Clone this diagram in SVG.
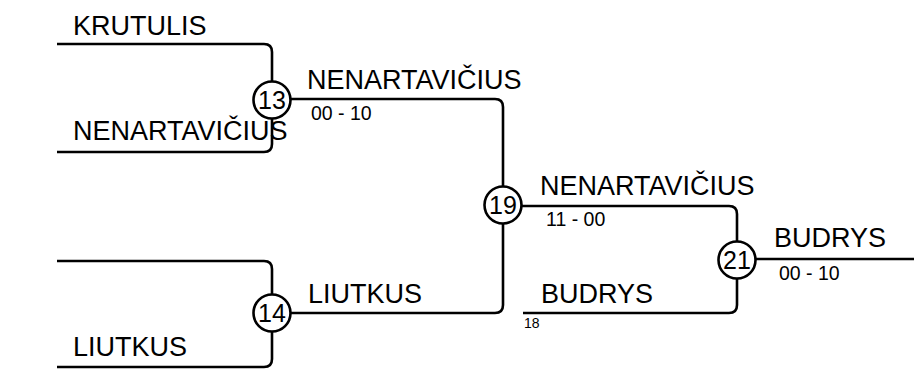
<svg xmlns="http://www.w3.org/2000/svg" width="914" height="372" viewBox="0 0 914 372">
<style>
.ln{fill:none;stroke:#000;stroke-width:2.6}
.c{fill:#fff;stroke:#000;stroke-width:2.6}
.t{font-family:"Liberation Sans",Arial,sans-serif;font-size:27px;fill:#000}
.s{font-family:"Liberation Sans",Arial,sans-serif;font-size:19.5px;fill:#000}
.n{font-family:"Liberation Sans",Arial,sans-serif;font-size:25px;fill:#000;text-anchor:middle}
.x{font-family:"Liberation Sans",Arial,sans-serif;font-size:14px;fill:#000}
</style>
<rect width="914" height="372" fill="#fff"/>
<g id="connectors">
<path class="ln" d="M57,44 H264 Q272,44 272,52 V81"/>
<path class="ln" d="M57,152 H264 Q272,152 272,144 V119"/>
<path class="ln" d="M290,99 H495 Q503,99 503,107 V187"/>
<path class="ln" d="M57,261 H264 Q272,261 272,269 V295"/>
<path class="ln" d="M57,367 H264 Q272,367 272,359 V331"/>
<path class="ln" d="M290,313 H495 Q503,313 503,305 V224"/>
<path class="ln" d="M521,206 H729 Q737,206 737,214 V241"/>
<path class="ln" d="M523,313 H729 Q737,313 737,305 V277"/>
<path class="ln" d="M755,259 H914"/>
</g>
<g id="labels">
<text class="t" x="73" y="35">KRUTULIS</text>
<text class="t" x="73" y="140">NENARTAVIČIUS</text>
<text class="t" x="307" y="89">NENARTAVIČIUS</text>
<text class="s" x="311" y="120">00 - 10</text>
<text class="t" x="308" y="303">LIUTKUS</text>
<text class="t" x="73" y="356">LIUTKUS</text>
<text class="t" x="540" y="195">NENARTAVIČIUS</text>
<text class="s" x="546" y="226">11 - 00</text>
<text class="t" x="541" y="303">BUDRYS</text>
<text class="x" x="524" y="328">18</text>
<text class="t" x="774" y="247">BUDRYS</text>
<text class="s" x="779" y="280">00 - 10</text>
</g>
<g id="match13"><circle class="c" cx="272" cy="100" r="18.5"/><text class="n" x="272" y="109">13</text></g>
<g id="match14"><circle class="c" cx="272" cy="313" r="18.5"/><text class="n" x="272" y="322">14</text></g>
<g id="match19"><circle class="c" cx="503" cy="205" r="18.5"/><text class="n" x="503" y="214">19</text></g>
<g id="match21"><circle class="c" cx="737" cy="260" r="18.5"/><text class="n" x="737" y="269">21</text></g>
</svg>
